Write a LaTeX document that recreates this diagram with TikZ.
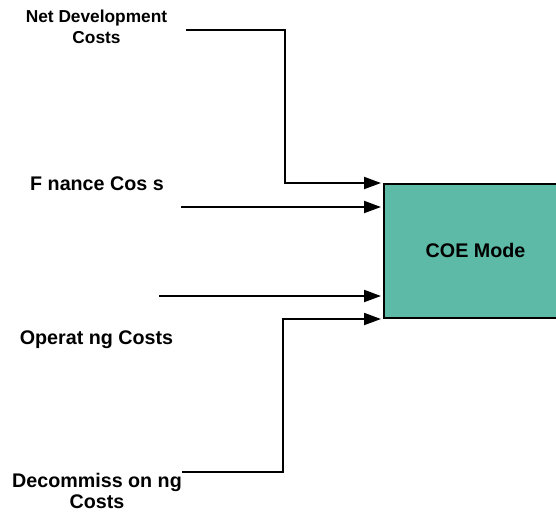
\documentclass[tikz,border=0pt]{standalone}
\usepackage{fontspec}
\setmainfont{Liberation Sans}
\usetikzlibrary{arrows.meta}
\definecolor{coefill}{HTML}{5CBAA6}
\begin{document}
\begin{tikzpicture}[x=1pt,y=-1pt,
  lbl/.style={font=\bfseries\fontsize{19.7}{21}\selectfont, inner sep=0pt, anchor=base, align=center},
  small/.style={font=\bfseries\fontsize{17.3}{20.6}\selectfont},
  model/.style={draw=black, line width=2pt, fill=coefill, minimum width=183pt, minimum height=134pt, inner sep=0pt, font=\bfseries\fontsize{19.7}{21}\selectfont},
  conn/.style={line width=2pt, -{Triangle[length=17pt,width=12pt]}, shorten >=2pt}]
\useasboundingbox (0,0) rectangle (556,515);
\clip (0,0) rectangle (556,515);
\node[model] (coe) at (475.5,251) {\raisebox{1.3pt}{COE Mode}};
\node[lbl,small] (nd) at (96.5,43.3) {Net Development\\Costs};
\node[lbl] (fc) at (97,190) {F nance Cos s};
\node[lbl] (oc) at (96.5,344) {Operat ng Costs};
\node[lbl] (dc) at (97,508.5) {Decommiss on ng\\Costs};
\coordinate (s1) at (186,30);
\coordinate (s2) at (181,207);
\coordinate (s3) at (159,296);
\coordinate (s4) at (182,472);
\draw[conn] (s1) -- ++(99,0) |- (coe.north west);
\draw[conn] (s2) -- (s2 -| coe.west);
\draw[conn] (s3) -- (s3 -| coe.west);
\draw[conn] (s4) -- ++(101,0) |- (coe.south west);
\end{tikzpicture}
\end{document}
